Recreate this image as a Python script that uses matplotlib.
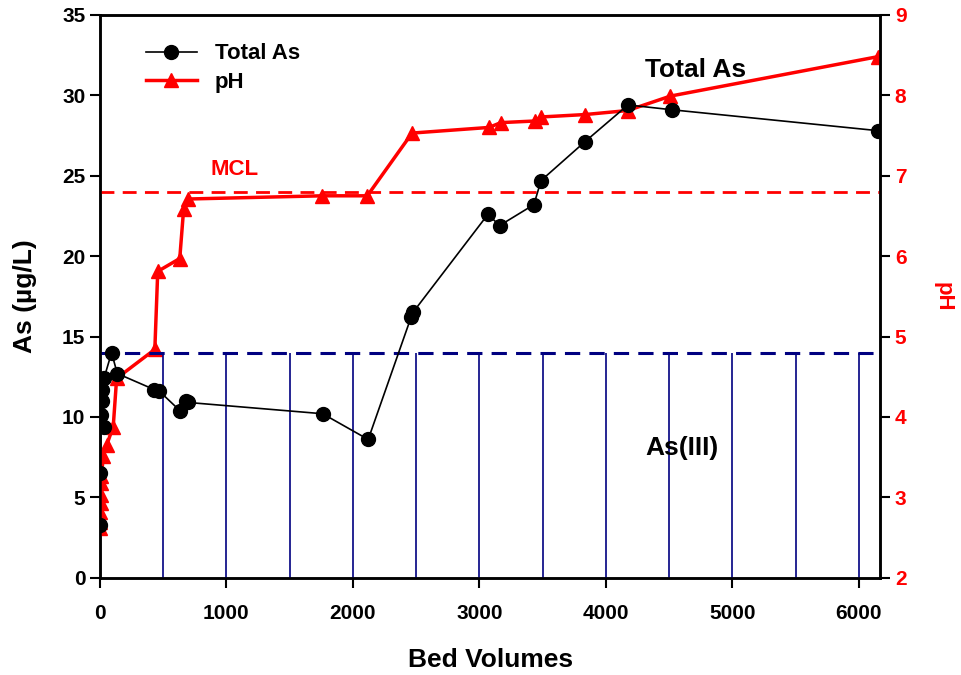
import matplotlib
matplotlib.use('Agg')
import matplotlib.pyplot as plt
import numpy as np

plt.rcParams['font.family'] = ['Liberation Sans', 'DejaVu Sans']
plt.rcParams['font.weight'] = 'bold'

###############################################################
# Data
###############################################################
# Total As (ug/L) vs bed volumes
as_bv = [0, 3, 8, 34, 18, 13, 32, 92, 137, 430, 470, 631, 683, 700,
         1761, 2121, 2460, 2475, 3068, 3160, 3431, 3488, 3833, 4175, 4521, 6151]
as_total = [3.3, 6.5, 10.1, 9.4, 11.0, 11.7, 12.4, 14.0, 12.7, 11.7, 11.6, 10.4, 11.0, 10.9,
            10.2, 8.6, 16.2, 16.5, 22.6, 21.9, 23.2, 24.7, 27.1, 29.4, 29.1, 27.8]

# pH vs bed volumes
ph_bv = [0, 2, 4, 6, 8, 10, 12, 26, 53, 105, 132, 434, 457, 631, 662, 694,
         1759, 2114, 2468, 3076, 3170, 3438, 3486, 3833, 4172, 4511, 6151]
ph = [2.62, 2.70, 2.82, 2.93, 3.03, 3.18, 3.26, 3.51, 3.65, 3.88, 4.48, 4.84, 5.81, 5.97, 6.59, 6.71,
      6.75, 6.75, 7.53, 7.60, 7.66, 7.68, 7.73, 7.76, 7.81, 7.99, 8.48]

# As(III) bars (bed volume positions, level)
as3_bv = [500, 1000, 1500, 2000, 2500, 3000, 3500, 4000, 4500, 5000, 5500, 6000]
as3_level = 14
mcl = 24

###############################################################
# Plot
###############################################################
fig = plt.figure(figsize=(9.61, 6.75), dpi=100)
ax = fig.add_axes([0.104, 0.144, 0.812, 0.834])
ax2 = ax.twinx()

navy = '#000080'
ax.vlines(as3_bv, 0, as3_level, color=navy, linewidth=1.2, zorder=1)
ax.axhline(as3_level, color=navy, linestyle=(0, (5, 3)), linewidth=2.2, zorder=1)
ax.axhline(mcl, color='red', linestyle=(0, (5, 3)), linewidth=2.0, zorder=1)

l1, = ax.plot(as_bv, as_total, color='black', linewidth=1.2, marker='o',
              markersize=10, label='Total As', zorder=3)
l2, = ax2.plot(ph_bv, ph, color='red', linewidth=2.5, marker='^',
               markersize=10, label='pH', zorder=3)

ax.set_xlim(0, 6170)
ax.set_ylim(0, 35)
ax2.set_ylim(2, 9)
ax.set_xticks(range(0, 6001, 1000))
ax.set_yticks(range(0, 36, 5))
ax2.set_yticks(range(2, 10))

ax.set_xlabel('Bed Volumes', fontsize=19, fontweight='bold', labelpad=18)
ax.set_ylabel('As (\u00b5g/L)', fontsize=19, fontweight='bold', labelpad=18)
ax2.set_ylabel('pH', fontsize=16, fontweight='bold', color='red', rotation=270, labelpad=34)

for a in (ax, ax2):
    for s in a.spines.values():
        s.set_linewidth(1.8)
ax.tick_params(axis='both', labelsize=15, width=1.5, length=7, direction='out')
ax.tick_params(axis='x', pad=12)
ax2.tick_params(axis='y', labelsize=15, width=1.5, length=7, direction='out', labelcolor='red')
for lab in ax.get_xticklabels() + ax.get_yticklabels() + ax2.get_yticklabels():
    lab.set_fontweight('bold')

ax.text(1065, 25.4, 'MCL', color='red', fontsize=16, fontweight='bold', ha='center', va='center')
ax.text(4710, 31.6, 'Total As', color='black', fontsize=19, fontweight='bold', ha='center', va='center')
ax.text(4600, 8.1, 'As(III)', color='black', fontsize=19, fontweight='bold', ha='center', va='center')

ax.legend([l1, l2], ['Total As', 'pH'], loc='upper left', bbox_to_anchor=(0.033, 0.985),
          frameon=False, prop={'size': 16, 'weight': 'bold'}, handlelength=2.3,
          labelspacing=0.35, handletextpad=0.8)

ax.set_zorder(ax2.get_zorder() + 1)
ax.patch.set_visible(False)

fig.savefig('out.png', dpi=100)
